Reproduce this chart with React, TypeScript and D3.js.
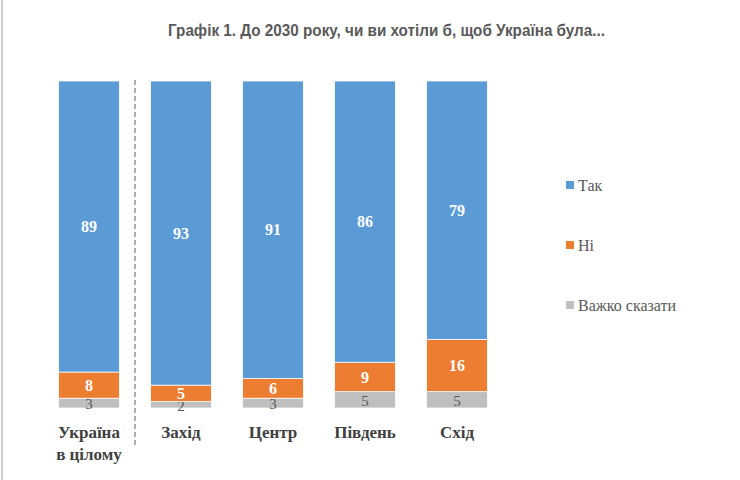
import React from 'react';
import * as d3 from 'd3';

const categories = ['Україна в цілому', 'Захід', 'Центр', 'Південь', 'Схід'];
const yesValues = [89, 93, 91, 86, 79];
const noValues = [8, 5, 6, 9, 16];
const hardValues = [3, 2, 3, 5, 5];
const seriesNames = ['Так', 'Ні', 'Важко сказати'];
const seriesColors = ['#5B9BD5', '#ED7D31', '#BFBFBF'];

const W = 740;
const H = 480;
const serif = "'Liberation Serif', 'Times New Roman', 'DejaVu Serif', serif";

export default function App() {
  const x = d3
    .scaleBand<string>()
    .domain(categories)
    .range([43, 503])
    .paddingInner(0.34)
    .paddingOuter(0.17);
  const y = d3.scaleLinear().domain([0, 100]).range([408, 81]);

  const rows = categories.map((c, i) => ({
    key: c,
    hard: hardValues[i],
    no: noValues[i],
    yes: yesValues[i],
  }));
  const stack = d3.stack<any>().keys(['hard', 'no', 'yes']);
  const layers = stack(rows);
  const layerColor: Record<string, string> = {
    yes: seriesColors[0],
    no: seriesColors[1],
    hard: seriesColors[2],
  };

  const sepX = (x(categories[0])! + x.bandwidth() + x(categories[1])!) / 2;

  return (
    <svg
      width={W}
      height={H}
      style={{ position: 'absolute', left: 0, top: 0, background: '#fff' }}
    >
      <line x1={2} x2={2} y1={0} y2={H} stroke="#BFBFBF" strokeWidth={1.5} />
      <text
        x={386.5}
        y={36}
        textAnchor="middle"
        style={{ fontFamily: "'Liberation Sans', Arial, sans-serif" }}
        fontWeight="bold"
        fontSize={17}
        fill="#595959"
        textLength={437}
        lengthAdjust="spacingAndGlyphs"
      >
        Графік 1. До 2030 року, чи ви хотіли б, щоб Україна була...
      </text>

      {layers.map(layer => (
        <g key={layer.key}>
          {layer.map((d, i) => {
            const top = y(d[1]);
            const bot = y(d[0]);
            const v = d[1] - d[0];
            const cx = x(categories[i])! + x.bandwidth() / 2;
            const isHard = layer.key === 'hard';
            return (
              <g key={i}>
                <rect
                  x={x(categories[i])}
                  y={top}
                  width={x.bandwidth()}
                  height={bot - top}
                  fill={layerColor[layer.key]}
                  stroke="#fff"
                  strokeWidth={0.75}
                />
                <text
                  x={cx}
                  y={(top + bot) / 2 + (isHard ? 1 : 0)}
                  dy="0.35em"
                  textAnchor="middle"
                  style={{ fontFamily: serif }}
                  fontWeight={isHard ? 'normal' : 'bold'}
                  fontSize={isHard ? 15 : 16}
                  fill={isHard ? '#595959' : '#fff'}
                >
                  {v}
                </text>
              </g>
            );
          })}
        </g>
      ))}

      <line
        x1={sepX}
        x2={sepX}
        y1={80}
        y2={448}
        stroke="#808080"
        strokeWidth={1.25}
        strokeDasharray="5,3"
      />

      {categories.map(c => {
        const parts = c === 'Україна в цілому' ? ['Україна', 'в цілому'] : [c];
        return (
          <text
            key={c}
            x={x(c)! + x.bandwidth() / 2}
            y={438}
            textAnchor="middle"
            style={{ fontFamily: serif }}
            fontWeight="bold"
            fontSize={17}
            fill="#404040"
          >
            {parts.map((p, j) => (
              <tspan key={j} x={x(c)! + x.bandwidth() / 2} dy={j === 0 ? 0 : 22}>
                {p}
              </tspan>
            ))}
          </text>
        );
      })}

      {seriesNames.map((s, i) => (
        <g key={s} transform={`translate(566, ${185 + i * 60})`}>
          <rect x={0} y={-4} width={8} height={8} fill={seriesColors[i]} />
          <text
            x={12}
            y={0}
            dy="0.35em"
            style={{ fontFamily: serif }}
            fontSize={16}
            fill="#595959"
          >
            {s}
          </text>
        </g>
      ))}
    </svg>
  );
}
